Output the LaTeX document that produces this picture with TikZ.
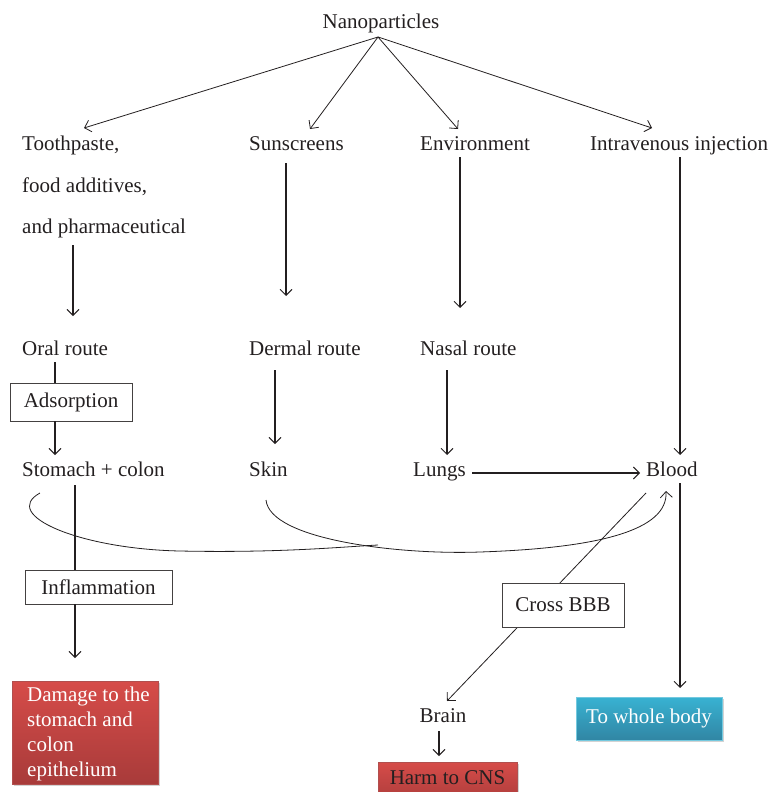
\documentclass[tikz,border=0pt]{standalone}
\usepackage{fontspec}
\setmainfont{Liberation Serif}
\usetikzlibrary{arrows.meta,shadows}
\definecolor{ink}{HTML}{231F20}
\definecolor{redtop}{HTML}{D64C49}
\definecolor{redbot}{HTML}{A83B3A}
\definecolor{bluetop}{HTML}{38B2D2}
\definecolor{bluebot}{HTML}{3186A4}
\tikzset{
  lbl/.style={anchor=west,inner sep=0pt,text height=14pt,text depth=4pt,text=ink,yshift=-2.5pt},
  arr/.style={draw=ink,line width=1.1pt,-{Straight Barb[length=6pt,width=12pt,line width=0.9pt]}},
  thin arr/.style={draw=ink,line width=0.8pt,-{Straight Barb[length=6pt,width=12pt,line width=0.8pt]}},
  plain/.style={draw=ink,line width=1.1pt},
  wbox/.style={draw=ink!85,line width=0.8pt,fill=white,inner sep=0pt,text=ink},
  redbox/.style={top color=redtop,bottom color=redbot,draw=redbot!90,line width=0.5pt,inner sep=0pt,drop shadow={shadow xshift=1.5pt,shadow yshift=-2pt,opacity=0.35}},
  bluebox/.style={top color=bluetop,bottom color=bluebot,draw=bluetop!70,line width=0.5pt,inner sep=0pt,text=white,drop shadow={shadow xshift=1.5pt,shadow yshift=-2pt,opacity=0.35}},
}
\begin{document}
\begin{tikzpicture}[x=1pt,y=-1pt,font=\fontsize{21}{25}\selectfont]
\useasboundingbox (0,0) rectangle (774,792);
\begin{scope}
\clip (0,0) rectangle (774,792);
% text nodes
\node[lbl,anchor=center] (nano) at (381,21) {Nanoparticles};
\node[lbl] (tooth) at (22,143) {Toothpaste,};
\node[lbl] (food) at (22,185) {food additives,};
\node[lbl] (pharm) at (22,226) {and pharmaceutical};
\node[lbl] (sun) at (249,143) {Sunscreens};
\node[lbl] (env) at (420,143) {Environment};
\node[lbl] (iv) at (590,143) {Intravenous injection};
\node[lbl] (oral) at (22,348) {Oral route};
\node[lbl] (dermal) at (249,348) {Dermal route};
\node[lbl] (nasal) at (420,348) {Nasal route};
\node[lbl] (stom) at (22,469) {Stomach + colon};
\node[lbl] (skin) at (249,469) {Skin};
\node[lbl] (lungs) at (413,469) {Lungs};
\node[lbl] (blood) at (646,469) {Blood};
\node[lbl,anchor=center] (brain) at (443,715) {Brain};

% boxes
\node[wbox,minimum width=122pt,minimum height=38pt] (adsorb) at (71,402) {Adsorption};
\node[wbox,minimum width=147pt,minimum height=34pt] (infl) at (98.5,587) {Inflammation};
\node[redbox,minimum width=146pt,minimum height=103pt] (damage) at (85,732.5) {};
\node[anchor=north west,inner sep=0pt,text=white,align=left] (damtext) at (27,687)
  {Damage to the\\stomach and\\colon\\epithelium};
\node[redbox,minimum width=139pt,minimum height=44pt,text=ink] (harm) at (447.5,784) {};
\node[inner sep=0pt,text=ink,text height=14pt,text depth=4pt] (harmtext) at (447.5,779) {Harm to CNS};
\node[bluebox,minimum width=146pt,minimum height=43pt] (whole) at (649,718.5) {To whole body};

% coordinates
\coordinate (nanoS) at (378,37);
\coordinate (toT) at (84,128);
\coordinate (suT) at (310,129);
\coordinate (enT) at (458,129);
\coordinate (ivT) at (652,128);

% nanoparticles fan-out
\draw[thin arr] (nanoS) -- (toT);
\draw[thin arr] (nanoS) -- (suT);
\draw[thin arr] (nanoS) -- (enT);
\draw[thin arr] (nanoS) -- (ivT);

% verticals
\draw[arr] (73,245) -- (73,316);
\draw[arr] (286,163) -- (286,296);
\draw[arr] (460,157) -- (460,308);
\draw[arr] (680,157) -- (680,455);

\draw[plain] (55,362) -- (adsorb.north -| 55,0);
\draw[arr] (adsorb.south -| 55,0) -- (55,455);
\draw[arr] (275,370) -- (275,444);
\draw[arr] (447,370) -- (447,455);
\draw[arr] (472,473) -- (640,473);

\draw[plain] (75,485) -- (infl.north -| 75,0);
\draw[arr] (infl.south -| 75,0) -- (75,658);

\draw[arr] (680,483) -- (680,688);
\draw[arr] (439,731) -- (439,756);

% curves to blood
\coordinate (junc) at (378,545);
\draw[draw=ink,line width=0.8pt] (40,493) .. controls (0,515) and (80,549) .. (180,551) .. controls (280,553) and (340,547) .. (junc);
\draw[thin arr] (266,500) .. controls (270,540) and (400,555) .. (480,552) .. controls (600,548) and (668,530) .. (666,491);

% blood to brain across BBB
\draw[thin arr] (646,493) -- (447,701);
\node[wbox,minimum width=122pt,minimum height=44pt] (cross) at (563,605) {Cross BBB};
\end{scope}
\end{tikzpicture}
\end{document}
